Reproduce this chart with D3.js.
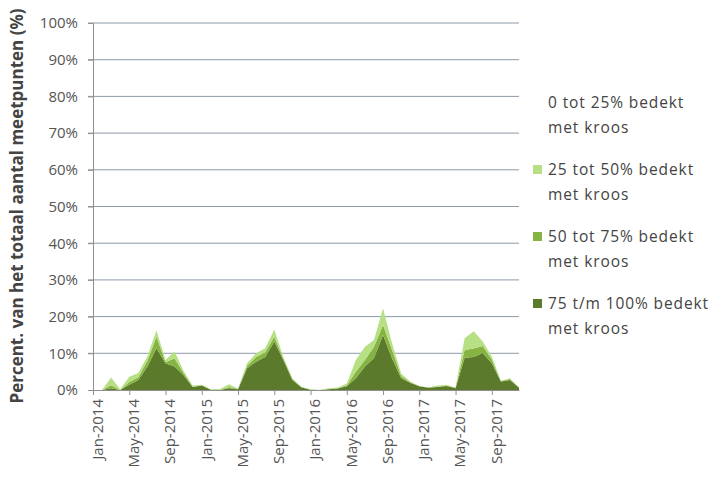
<!DOCTYPE html>
<html><head><meta charset="utf-8">
<script src="https://cdn.jsdelivr.net/npm/d3@7"></script>
<style>
html,body{margin:0;padding:0;background:#fff;}
svg{display:block;}
text{font-family:"Open Sans","DejaVu Sans",sans-serif;}
</style></head>
<body>
<svg id="chart" width="721" height="485"></svg>
<script>
// ---- data ----
const years = [2014, 2015, 2016, 2017];
const monthNames = ["Jan","Feb","Mar","Apr","May","Jun","Jul","Aug","Sep","Oct","Nov","Dec"];
const categories = years.flatMap(yr => monthNames.map(m => m + "-" + yr));

// percent of measuring points, per cover class (stacked)
const cover75to100 = [
  0, 0, 0.5, 0, 1.4, 2.7, 6.4, 11.4, 7.3, 6.4, 4.0, 0.8,
  1.2, 0.1, 0, 0.5, 0.2, 5.9, 7.7, 9.0, 13.2, 8.2, 2.7, 0.7,
  0.1, 0, 0.2, 0.4, 1.0, 3.2, 6.4, 8.7, 15.0, 8.6, 3.2, 2.0,
  1.0, 0.6, 0.8, 1.1, 0.5, 8.8, 9.0, 10.1, 7.3, 2.3, 2.7, 0.6
];
const cover50to75 = [
  0, 0, 0.8, 0, 0.8, 0.8, 1.6, 3.1, 0.3, 2.2, 0.6, 0.1,
  0.1, 0, 0, 0.3, 0.1, 0.7, 1.3, 1.3, 1.3, 0.4, 0.2, 0.1,
  0, 0, 0.1, 0.1, 0.3, 1.8, 1.8, 3.1, 2.7, 2.3, 0.6, 0.1,
  0.05, 0.05, 0.1, 0.1, 0.1, 2.1, 2.3, 1.9, 1.0, 0.1, 0.3, 0.05
];
const cover25to50 = [
  0, 0, 2.1, 0.2, 1.4, 1.1, 1.1, 1.8, 0.6, 1.9, 0.6, 0.3,
  0.1, 0.1, 0.3, 0.8, 0.1, 0.7, 1.0, 1.1, 2.0, 0.4, 0.3, 0.1,
  0.1, 0, 0.2, 0.2, 0.5, 3.2, 3.6, 1.8, 4.6, 1.8, 0.7, 0.2,
  0.05, 0.05, 0.3, 0.2, 0.1, 3.2, 4.7, 1.2, 0.8, 0.1, 0.2, 0.05
];
const yTicks = [0,10,20,30,40,50,60,70,80,90,100];
const xTickLabels = ["Jan-2014","May-2014","Sep-2014","Jan-2015","May-2015","Sep-2015",
  "Jan-2016","May-2016","Sep-2016","Jan-2017","May-2017","Sep-2017"];
const seriesNames = ["0 tot 25% bedekt met kroos","25 tot 50% bedekt met kroos",
  "50 tot 75% bedekt met kroos","75 t/m 100% bedekt met kroos"];
const seriesColors = ["#ffffff","#b6e083","#86b442","#5c7a2c"];
const yTitle = "Percent. van het totaal aantal meetpunten (%)";

// ---- layout ----
const svg = d3.select("#chart");
const mLeft = 93, mRight = 519, mTop = 23, mBottom = 390;

const x = d3.scalePoint().domain(categories).range([mLeft, mRight]);
const y = d3.scaleLinear().domain([0, 100]).range([mBottom, mTop]);

// gridlines
svg.append("g").selectAll("line").data(yTicks.filter(d => d > 0)).join("line")
  .attr("x1", mLeft - 5).attr("x2", mRight)
  .attr("y1", d => y(d)).attr("y2", d => y(d))
  .attr("stroke", "#8c9aa8").attr("stroke-width", 1);

// stacked areas
const rows = categories.map((c, i) => ({
  c, a: cover75to100[i], b: cover50to75[i], d: cover25to50[i]
}));
const stack = d3.stack().keys(["a","b","d"]);
const layers = stack(rows);
const layerColors = [seriesColors[3], seriesColors[2], seriesColors[1]];
const area = d3.area()
  .x(d => x(d.data.c))
  .y0(d => y(d[0])).y1(d => y(d[1]));
svg.append("g").selectAll("path").data(layers).join("path")
  .attr("d", area)
  .attr("fill", (d, i) => layerColors[i]);

// y axis
const yAxis = d3.axisLeft(y).tickValues(yTicks).tickSize(5).tickPadding(10)
  .tickFormat(d => d + "%");
const gy = svg.append("g").attr("transform", `translate(${mLeft},0)`).call(yAxis);
gy.select(".domain").attr("stroke", "#8f8f8f");
gy.selectAll(".tick line").attr("stroke", "#8f8f8f");
gy.selectAll("text").attr("font-size", 15).attr("fill", "#555");

// x axis
const xAxis = d3.axisBottom(x).tickValues(xTickLabels).tickSize(5).tickSizeOuter(0);
const gx = svg.append("g").attr("transform", `translate(0,${mBottom})`).call(xAxis);
gx.select(".domain").attr("stroke", "#8f8f8f");
gx.selectAll(".tick line").attr("stroke", "#8f8f8f");
gx.selectAll("text")
  .attr("font-size", 15).attr("fill", "#555")
  .attr("text-anchor", "end")
  .attr("transform", "translate(4,9) rotate(-90)")
  .attr("x", 0).attr("y", 0).attr("dy", "0.35em");

// y title
svg.append("text")
  .attr("transform", "translate(17,206) rotate(-90)")
  .attr("text-anchor", "middle").attr("dy", "0.35em")
  .attr("font-size", 17).attr("font-weight", "bold").attr("fill", "#444")
  .text(yTitle);

// legend
const legendY = [103, 170, 237, 304];
const lg = svg.append("g");
seriesNames.forEach((name, i) => {
  const words = name.split(" met ");
  const g = lg.append("g").attr("transform", `translate(533,${legendY[i]})`);
  g.append("rect").attr("x", 0).attr("y", -5).attr("width", 9).attr("height", 9)
    .attr("fill", seriesColors[i]);
  g.append("text").attr("x", 15).attr("y", 0).attr("dy", "0.35em")
    .attr("font-size", 15.5).attr("letter-spacing", 0.9).attr("fill", "#444").text(words[0]);
  g.append("text").attr("x", 15).attr("y", 25).attr("dy", "0.35em")
    .attr("font-size", 15.5).attr("letter-spacing", 0.9).attr("fill", "#444").text("met " + words[1]);
});
</script>
</body></html>
